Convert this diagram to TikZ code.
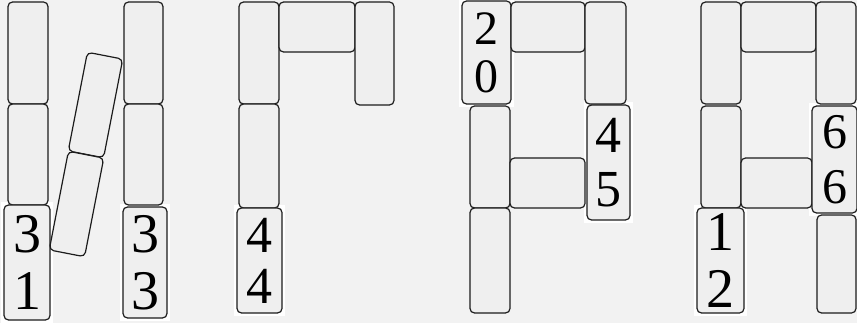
\documentclass[tikz,border=0pt]{standalone}
\usepackage{fontspec}
\setmainfont{Liberation Serif}
\usetikzlibrary{fit,backgrounds}
\definecolor{pagegray}{HTML}{F2F2F2}
\definecolor{tilegray}{HTML}{EFEFEF}
\definecolor{edgegray}{HTML}{1C1C1C}

\begin{document}
\begin{tikzpicture}[x=1pt,y=-1pt,
 tile/.style={rounded corners=4.5pt,draw=edgegray,fill=tilegray,line width=1.2pt,minimum width=40pt,minimum height=102pt,inner sep=0pt},
 bar/.style={tile,minimum width=75pt,minimum height=50pt},
 numtile/.style={tile,align=center,font=\fontsize{56}{57}\selectfont},
 patch/.style={fill=white,inner sep=2.5pt}]
\useasboundingbox (0,0) rectangle (857,323);

\node[tile] (n1) at (28,53) {};
\node[tile,minimum height=101pt] (n2) at (28,154.5) {};
\node[numtile,minimum width=46pt,minimum height=115pt] (n3) at (27,262.5) {3\\1};
\node[tile,minimum width=39pt] (n4) at (143.5,53) {};
\node[tile,minimum width=39pt,minimum height=101pt] (n5) at (143.5,154.5) {};
\node[numtile,minimum width=44pt,minimum height=111pt] (n6) at (145,262.5) {3\\3};
\node[tile,minimum width=36pt,minimum height=100.5pt,rotate=-11] (d1) at (95.5,105) {};
\node[tile,minimum width=36pt,minimum height=100.5pt,rotate=-11] (d2) at (76.5,204) {};

\node[tile] (g1) at (259,53) {};
\node[tile,minimum height=104pt] (g2) at (259,156) {};
\node[numtile,minimum width=45pt,minimum height=105pt,font=\fontsize{52}{51}\selectfont] (g3) at (259.5,260.5) {4\\4};
\node[bar,minimum width=76pt] (g4) at (317,27) {};
\node[tile,minimum width=39pt,minimum height=103pt] (g5) at (374.5,53.5) {};

\node[numtile,minimum width=49pt,minimum height=103pt,font=\fontsize{48}{48}\selectfont] (p1) at (486.5,52.5) {2\\0};
\node[bar,minimum width=74pt] (p2) at (548,27) {};
\node[tile,minimum width=41pt] (p3) at (605.5,53) {};
\node[tile] (p4) at (490,157) {};
\node[tile,minimum height=105pt] (p5) at (490,260.5) {};
\node[bar] (p6) at (547.5,183) {};
\node[numtile,minimum width=43pt,minimum height=115pt,font=\fontsize{52}{54}\selectfont] (p7) at (608.5,162.5) {4\\5};

\node[tile] (a1) at (721,53) {};
\node[tile] (a2) at (721,157) {};
\node[numtile,minimum width=47pt,minimum height=105pt] (a3) at (720.5,260.5) {1\\2};
\node[bar] (a4) at (778.5,27) {};
\node[tile] (a5) at (836,53) {};
\node[bar,minimum width=71pt] (a6) at (776.5,183) {};
\node[numtile,minimum width=45pt,minimum height=107pt,font=\fontsize{50}{55}\selectfont] (a7) at (834.5,159.5) {6\\6};
\node[tile,minimum width=39pt,minimum height=98pt] (a8) at (836.5,264) {};

\begin{scope}[on background layer]
\fill[pagegray] (0,0) rectangle (857,323);
\node[patch,fit=(n3)] {};
\node[patch,fit=(n6)] {};
\node[patch,fit=(g3)] {};
\node[patch,fit=(p1)] {};
\node[patch,fit=(p7)] {};
\node[patch,fit=(a3)] {};
\node[patch,fit=(a7)] {};
\end{scope}
\end{tikzpicture}
\end{document}
